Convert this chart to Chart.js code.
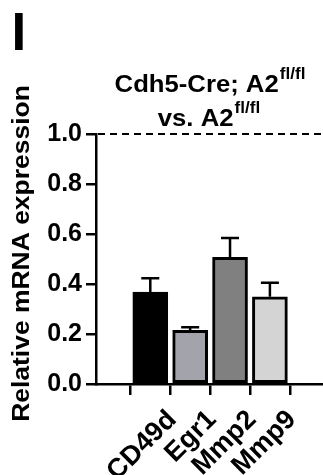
<!DOCTYPE html>
<html>
<head>
<meta charset="utf-8">
<script src="https://cdn.jsdelivr.net/npm/chart.js@4.4.1/dist/chart.umd.min.js"></script>
<style>
  html, body { margin: 0; padding: 0; background: #fff; }
  #wrap { position: relative; width: 323px; height: 475px; }
</style>
</head>
<body>
<div id="wrap"><canvas id="chart" width="323" height="475"></canvas></div>
<script>
// values
const genes = ['CD49d', 'Egr1', 'Mmp2', 'Mmp9'];
const meanExpr = [0.368, 0.215, 0.507, 0.349];
const semExpr = [0.055, 0.012, 0.077, 0.056];
const barColors = ['#000000', '#a3a3ab', '#808080', '#d4d4d4'];
const yTicks = [0, 0.2, 0.4, 0.6, 0.8, 1.0];
const refLevel = 1.0;
const titleLines = [['Cdh5-Cre; A2', 'fl/fl'], ['vs. A2', 'fl/fl']];
const yTitle = 'Relative mRNA expression';
const panelLabel = 'I';

const FONT = "'Liberation Sans', Arial, Helvetica, sans-serif";
Chart.defaults.font.family = FONT;
Chart.defaults.color = '#000';

// stretched text helper (the figure's font runs wider than Arial)
function stretchedText(ctx, text, x, y, sx, size) {
    ctx.save();
    ctx.font = 'bold ' + size + 'px ' + FONT;
    ctx.translate(x, y);
    ctx.scale(sx, 1);
    ctx.fillText(text, 0, 0);
    ctx.restore();
}

const errorBars = {
    id: 'errorBars',
    afterDatasetsDraw(chart) {
        const ctx = chart.ctx;
        const ys = chart.scales.y;
        const meta = chart.getDatasetMeta(0);
        ctx.save();
        ctx.strokeStyle = '#000';
        ctx.lineWidth = 2.5;
        meta.data.forEach(function (bar, i) {
            const top = ys.getPixelForValue(meanExpr[i] + semExpr[i]);
            ctx.beginPath();
            ctx.moveTo(bar.x, bar.y);
            ctx.lineTo(bar.x, top);
            ctx.moveTo(bar.x - 9, top);
            ctx.lineTo(bar.x + 9, top);
            ctx.stroke();
        });
        ctx.restore();
    }
};

const refLine = {
    id: 'refLine',
    afterDatasetsDraw(chart) {
        const ctx = chart.ctx;
        const area = chart.chartArea;
        const y = chart.scales.y.getPixelForValue(refLevel);
        ctx.save();
        ctx.strokeStyle = '#000';
        ctx.lineWidth = 2;
        ctx.setLineDash([7, 5]);
        ctx.beginPath();
        ctx.moveTo(area.left + 2, y);
        ctx.lineTo(area.right, y);
        ctx.stroke();
        ctx.restore();
    }
};

const figureText = {
    id: 'figureText',
    afterDraw(chart) {
        const ctx = chart.ctx;
        ctx.save();
        ctx.fillStyle = '#000';
        ctx.textBaseline = 'alphabetic';
        ctx.textAlign = 'left';

        // panel letter
        ctx.font = 'bold 53px ' + FONT;
        ctx.fillText(panelLabel, 11.5, 50);

        // two line title with superscripts
        const centers = [210, 209];
        const baselines = [92, 126];
        const sx = 1.07;
        titleLines.forEach(function (line, i) {
            ctx.font = 'bold 24px ' + FONT;
            const wm = ctx.measureText(line[0]).width;
            ctx.font = 'bold 16px ' + FONT;
            const ws = ctx.measureText(line[1]).width;
            const total = (wm + ws + 1) * sx;
            const x0 = centers[i] - total / 2;
            stretchedText(ctx, line[0], x0, baselines[i], sx, 24);
            stretchedText(ctx, line[1], x0 + (wm + 1) * sx, baselines[i] - 13, sx, 16);
        });

        // y axis title, rotated
        ctx.save();
        ctx.translate(28.5, 253.5);
        ctx.rotate(-Math.PI / 2);
        ctx.scale(1.15, 1);
        ctx.textAlign = 'center';
        ctx.font = 'bold 23px ' + FONT;
        ctx.fillText(yTitle, 0, 0);
        ctx.restore();

        ctx.restore();
    }
};

new Chart(document.getElementById('chart'), {
    type: 'bar',
    data: {
        datasets: [{
            data: meanExpr.map(function (v, i) { return {x: i, y: v}; }),
            backgroundColor: barColors,
            borderColor: '#000',
            borderWidth: 3,
            borderSkipped: false,
            barThickness: 35
        }]
    },
    options: {
        responsive: false,
        animation: false,
        devicePixelRatio: 1,
        layout: {
            padding: {top: 134, right: 0, bottom: 0, left: 0}
        },
        scales: {
            x: {
                type: 'linear',
                min: -0.65,
                max: 3.62,
                afterBuildTicks: function (s) {
                    s.ticks = genes.map(function (g, i) { return {value: i}; });
                },
                afterFit: function (s) { s.height = 91; },
                ticks: {
                    autoSkip: false,
                    minRotation: 45,
                    maxRotation: 45,
                    padding: 9,
                    labelOffset: 22,
                    color: '#000',
                    font: {size: 27, weight: 'bold'},
                    callback: function (v) { return genes[v]; }
                },
                grid: {drawOnChartArea: false, drawTicks: true, tickLength: 11, color: '#000', lineWidth: 2.5},
                border: {color: '#000', width: 2.5}
            },
            y: {
                min: 0,
                max: 1,
                afterBuildTicks: function (s) {
                    s.ticks = yTicks.map(function (v) { return {value: v}; });
                },
                afterFit: function (s) { s.width = 96; },
                ticks: {
                    padding: 4,
                    color: '#000',
                    font: {size: 25, weight: 'bold'},
                    callback: function (v) { return v.toFixed(1); }
                },
                grid: {drawOnChartArea: false, drawTicks: true, tickLength: 10, color: '#000', lineWidth: 2.5},
                border: {color: '#000', width: 2.5}
            }
        },
        plugins: {
            legend: {display: false},
            tooltip: {enabled: false}
        }
    },
    plugins: [errorBars, refLine, figureText]
});
</script>
</body>
</html>
